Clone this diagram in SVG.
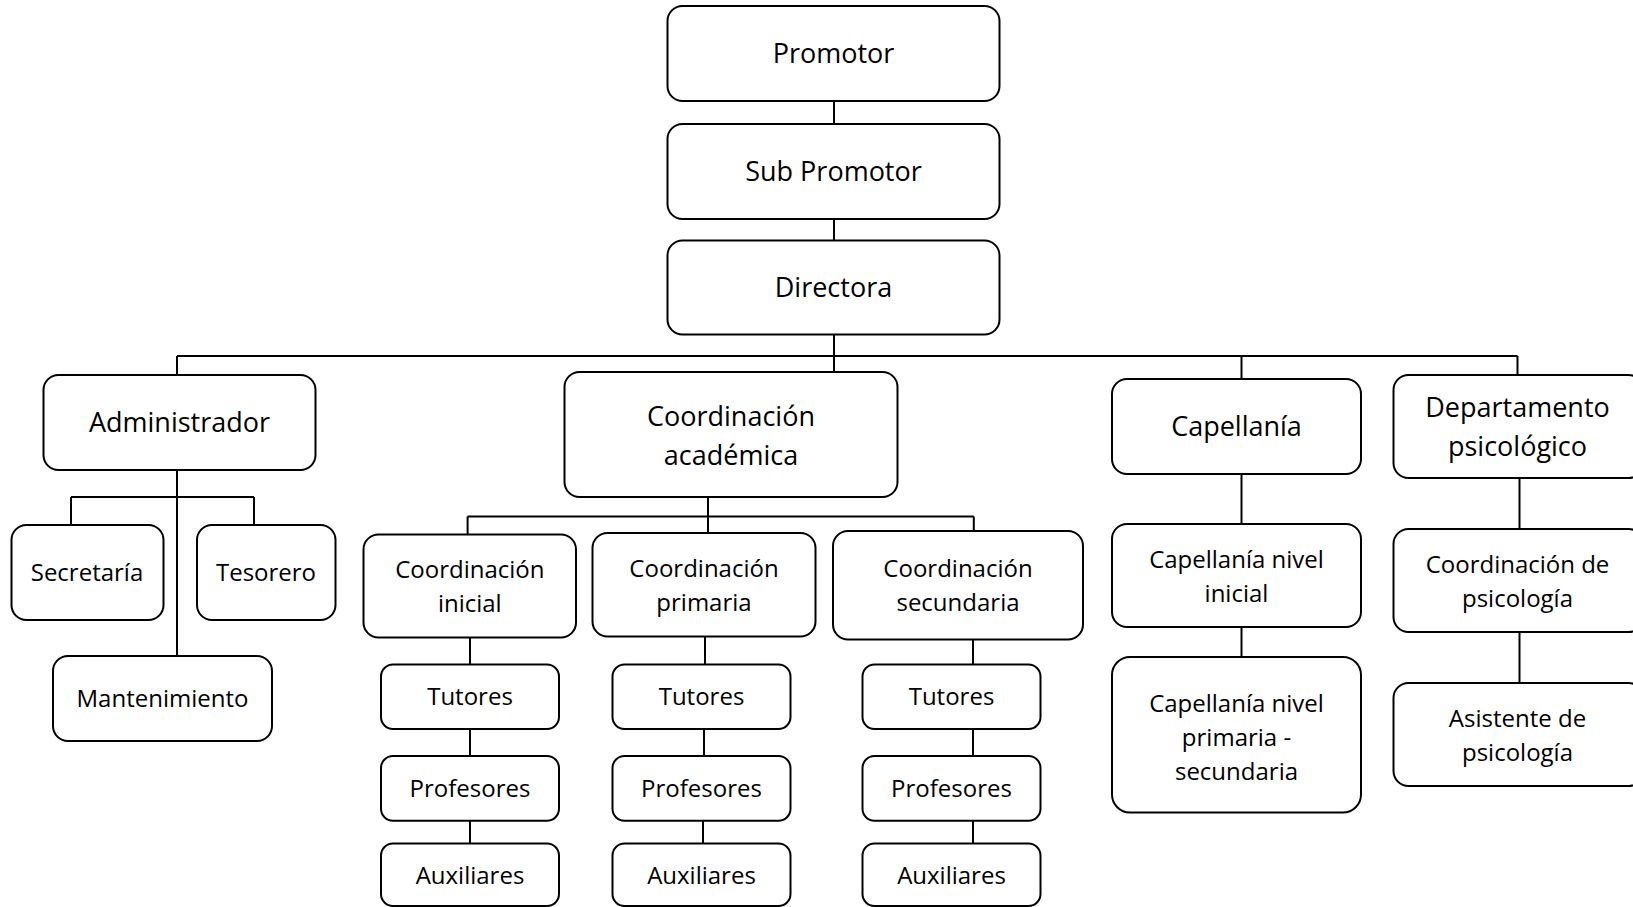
<svg xmlns="http://www.w3.org/2000/svg" width="1633" height="907" viewBox="0 0 1633 907">
<style>
.b{fill:#fff;stroke:#000;stroke-width:2}
.c{fill:none;stroke:#000;stroke-width:2}
text{font-family:"Open Sans","Noto Sans","Liberation Sans",sans-serif;fill:#000;text-anchor:middle}
.L{font-size:27px}
.S{font-size:24px}
</style>
<rect width="1633" height="907" fill="#fff"/>
<g id="connectors" class="c">
<path d="M834 101V124M834 219V240.5M834 334.5V372"/>
<path d="M177 356H1517.5M177 356V375M1241.5 356V379M1517.5 356V375"/>
<path d="M177 470V656M71 497H254M71 497V525M254 497V525"/>
<path d="M708 497V533M467.6 516.6H973.8M467.6 516.6V534.5M973.8 516.6V531"/>
<path d="M470 637.5V664.5M470 729V756M470 820.7V843.5"/>
<path d="M705 636.5V664.5M704 729V756M703 820.7V843.5"/>
<path d="M973 639.5V664.5M973 729V756M973 820.7V843.5"/>
<path d="M1241.5 474V524M1241.5 627V657"/>
<path d="M1519.5 478V529M1519.5 632V683"/>
</g>
<g id="promotor"><rect class="b" x="667.5" y="6" width="332" height="95" rx="15"/><text class="L" x="833.5" y="63">Promotor</text></g>
<g id="subpromotor"><rect class="b" x="667.5" y="124" width="332" height="95" rx="15"/><text class="L" x="833.5" y="181">Sub Promotor</text></g>
<g id="directora"><rect class="b" x="667.5" y="240.5" width="332" height="94" rx="15"/><text class="L" x="833.5" y="297">Directora</text></g>
<g id="administrador"><rect class="b" x="43.5" y="375" width="272" height="95" rx="15"/><text class="L" x="179.5" y="432">Administrador</text></g>
<g id="secretaria"><rect class="b" x="11.5" y="525" width="152" height="95" rx="15"/><text class="S" x="87" y="581">Secretaría</text></g>
<g id="tesorero"><rect class="b" x="197" y="525" width="138.5" height="95" rx="15"/><text class="S" x="266" y="581">Tesorero</text></g>
<g id="mantenimiento"><rect class="b" x="53" y="656" width="219" height="85" rx="15"/><text class="S" x="162.5" y="707">Mantenimiento</text></g>
<g id="coord-academica"><rect class="b" x="564.5" y="372" width="333" height="125" rx="15"/><text class="L" x="731" y="426">Coordinación</text><text class="L" x="731" y="464.5">académica</text></g>
<g id="coord-inicial"><rect class="b" x="363.5" y="534.5" width="212.5" height="103" rx="15"/><text class="S" x="469.8" y="578">Coordinación</text><text class="S" x="469.8" y="612">inicial</text></g>
<g id="coord-primaria"><rect class="b" x="592.5" y="533" width="223" height="103.5" rx="15"/><text class="S" x="704" y="577">Coordinación</text><text class="S" x="704" y="611">primaria</text></g>
<g id="coord-secundaria"><rect class="b" x="833" y="531" width="250" height="108.5" rx="15"/><text class="S" x="958" y="577">Coordinación</text><text class="S" x="958" y="611">secundaria</text></g>
<g id="tutores-inicial"><rect class="b" x="381" y="664.5" width="178" height="64.5" rx="12"/><text class="S" x="470" y="705">Tutores</text></g>
<g id="profesores-inicial"><rect class="b" x="381" y="756" width="178" height="64.7" rx="12"/><text class="S" x="470" y="796.5">Profesores</text></g>
<g id="auxiliares-inicial"><rect class="b" x="381" y="843.5" width="178" height="62.5" rx="12"/><text class="S" x="470" y="884">Auxiliares</text></g>
<g id="tutores-primaria"><rect class="b" x="612.5" y="664.5" width="178" height="64.5" rx="12"/><text class="S" x="701.5" y="705">Tutores</text></g>
<g id="profesores-primaria"><rect class="b" x="612.5" y="756" width="178" height="64.7" rx="12"/><text class="S" x="701.5" y="796.5">Profesores</text></g>
<g id="auxiliares-primaria"><rect class="b" x="612.5" y="843.5" width="178" height="62.5" rx="12"/><text class="S" x="701.5" y="884">Auxiliares</text></g>
<g id="tutores-secundaria"><rect class="b" x="862.5" y="664.5" width="178" height="64.5" rx="12"/><text class="S" x="951.5" y="705">Tutores</text></g>
<g id="profesores-secundaria"><rect class="b" x="862.5" y="756" width="178" height="64.7" rx="12"/><text class="S" x="951.5" y="796.5">Profesores</text></g>
<g id="auxiliares-secundaria"><rect class="b" x="862.5" y="843.5" width="178" height="62.5" rx="12"/><text class="S" x="951.5" y="884">Auxiliares</text></g>
<g id="capellania"><rect class="b" x="1112" y="379" width="249" height="95" rx="15"/><text class="L" x="1236.5" y="436">Capellanía</text></g>
<g id="capellania-inicial"><rect class="b" x="1112" y="524" width="249" height="103" rx="15"/><text class="S" x="1236.5" y="568">Capellanía nivel</text><text class="S" x="1236.5" y="602">inicial</text></g>
<g id="capellania-primaria"><rect class="b" x="1112" y="657" width="249" height="155.5" rx="18"/><text class="S" x="1236.5" y="711.5">Capellanía nivel</text><text class="S" x="1236.5" y="745.5">primaria -</text><text class="S" x="1236.5" y="779.5">secundaria</text></g>
<g id="departamento"><rect class="b" x="1393.5" y="375" width="250" height="103" rx="15"/><text class="L" x="1517.5" y="417">Departamento</text><text class="L" x="1517.5" y="455.5">psicológico</text></g>
<g id="coord-psicologia"><rect class="b" x="1393.5" y="529" width="250" height="103" rx="15"/><text class="S" x="1517.5" y="573">Coordinación de</text><text class="S" x="1517.5" y="607">psicología</text></g>
<g id="asistente-psicologia"><rect class="b" x="1393.5" y="683" width="250" height="103" rx="15"/><text class="S" x="1517.5" y="727">Asistente de</text><text class="S" x="1517.5" y="761">psicología</text></g>
</svg>
